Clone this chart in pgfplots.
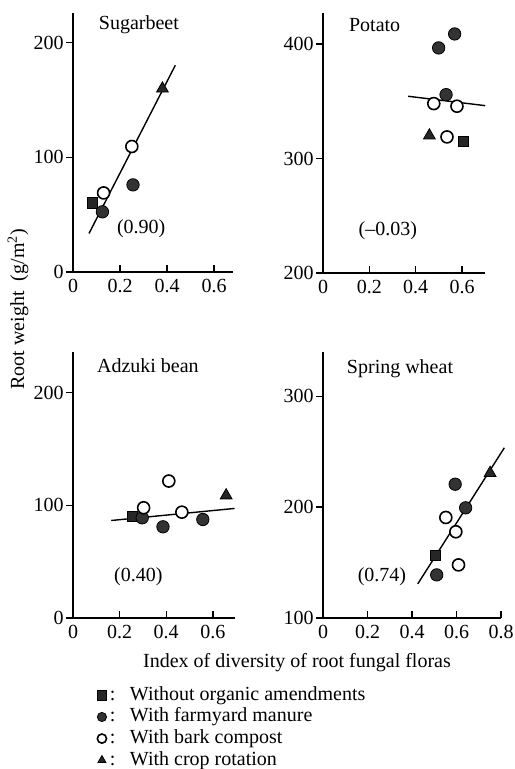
\documentclass[border=0pt]{standalone}
\usepackage{fontspec}
\setmainfont{Liberation Serif}
\usepackage{pgfplots}
\pgfplotsset{compat=1.18}

% marker styles, one for each treatment
\pgfplotsset{
  panel/.style={
    scale only axis, anchor=south west, clip=false,
    axis lines=left, axis line style={-, line width=0.7pt},
    xtick align=inside, ytick align=outside,
    major tick length=3.5pt,
    tick style={line width=0.7pt, black},
    xmin=0,
    font=\rmfamily\fontsize{10}{12}\selectfont,
    tick label style={font=\rmfamily\fontsize{10}{12}\selectfont},
    yticklabel style={inner xsep=1pt},
    /pgf/number format/assume math mode=true,
    /pgf/number format/fixed,
  },
  none/.style={only marks, mark=square*, mark size=2.6pt, draw=black, fill=black!85},
  fym/.style={only marks, mark=*, mark size=3.1pt, draw=black, fill=black!80},
  bark/.style={only marks, mark=*, mark size=3pt, draw=black, fill=white, mark options={line width=0.8pt}},
  rot/.style={only marks, mark=triangle*, mark size=3.4pt, draw=black, fill=black!85},
  fit/.style={line width=0.7pt, black},
}

\begin{document}
\begin{tikzpicture}
\path[use as bounding box] (0,0) rectangle (257pt,384.5pt);

% Sugarbeet
\begin{axis}[panel, at={(36.5pt,248.5pt)}, width=80pt, height=129.5pt,
  xmax=0.68, ymin=0, ymax=226, xtick={0,0.2,0.4,0.6}, ytick={0,100,200}]
  \addplot[fit] coordinates {(0.068,33.6) (0.435,180.4)};
  \addplot[none] coordinates {(0.082,60.4)};
  \addplot[fym] coordinates {(0.125,52.5) (0.255,76)};
  \addplot[bark] coordinates {(0.13,69) (0.25,109.5)};
  \addplot[rot] coordinates {(0.38,160)};
  \node[anchor=west] at (axis cs:0.08,215.7) {Sugarbeet};
  \node at (axis cs:0.29,37.5) {(0.90)};
\end{axis}

% Potato
\begin{axis}[panel, at={(161.5pt,248pt)}, width=81pt, height=130pt,
  xmax=0.699, ymin=200, ymax=427, xtick={0,0.2,0.4,0.6}, ytick={200,300,400}]
  \addplot[fit] coordinates {(0.367,354.3) (0.70,346.1)};
  \addplot[none] coordinates {(0.607,315)};
  \addplot[fym] coordinates {(0.499,396.5) (0.568,408.7) (0.531,355.7)};
  \addplot[bark] coordinates {(0.478,347.9) (0.578,345.6) (0.535,318.8)};
  \addplot[rot] coordinates {(0.459,320)};
  \node[anchor=west] at (axis cs:0.082,416.6) {Potato};
  \node at (axis cs:0.28,236.7) {(--0.03)};
\end{axis}

% Adzuki bean
\begin{axis}[panel, at={(36.5pt,75.5pt)}, width=81pt, height=133pt,
  xmax=0.695, ymin=0, ymax=236, xtick={0,0.2,0.4,0.6}, ytick={0,100,200}]
  \addplot[fit] coordinates {(0.164,86.5) (0.693,97.2)};
  \addplot[none] coordinates {(0.254,90.4)};
  \addplot[fym] coordinates {(0.297,88.9) (0.386,80.9) (0.557,87.4)};
  \addplot[bark] coordinates {(0.303,97.8) (0.411,121.5) (0.467,93.9)};
  \addplot[rot] coordinates {(0.657,108.7)};
  \node[anchor=west] at (axis cs:0.073,224) {Adzuki bean};
  \node at (axis cs:0.28,37) {(0.40)};
\end{axis}

% Spring wheat, carries the legend
\begin{axis}[panel, at={(161.5pt,75.5pt)}, width=89pt, height=133pt,
  xmax=0.8, ymin=100, ymax=340, xtick={0,0.2,0.4,0.6,0.8}, ytick={100,200,300},
  legend image code/.code={\draw[#1, mark size=2.3pt] plot coordinates {(2.5pt,0pt)};},
  legend style={draw=none, fill=none, inner sep=0pt, row sep=1.8pt,
    at={(-1.27,-0.2556)}, anchor=north west,
    nodes={inner sep=0pt, text height=7pt, text depth=2pt},
    /tikz/every odd column/.append style={column sep=1.7pt},
    font=\rmfamily\fontsize{10}{12}\selectfont},
  legend cell align=left]
  \addplot[none] coordinates {(0.505,156.3)};
  \addlegendentry{\makebox[10pt][l]{:}Without organic amendments}
  \addplot[fym] coordinates {(0.594,220.7) (0.641,199.4) (0.511,138.9)};
  \addlegendentry{\makebox[10pt][l]{:}With farmyard manure}
  \addplot[bark] coordinates {(0.552,190.7) (0.597,177.8) (0.609,147.9)};
  \addlegendentry{\makebox[10pt][l]{:}With bark compost}
  \addplot[rot] coordinates {(0.751,230.8)};
  \addlegendentry{\makebox[10pt][l]{:}With crop rotation}
  \addplot[fit, forget plot] coordinates {(0.426,130.8) (0.815,253.6)};
  \node[anchor=west] at (axis cs:0.076,325) {Spring wheat};
  \node at (axis cs:0.265,137) {(0.74)};
\end{axis}

\node[rotate=90, font=\rmfamily\fontsize{10}{12}\selectfont] at (9pt,230pt) {Root weight\ \ (g/m\textsuperscript{2})};
\node[font=\rmfamily\fontsize{10}{12}\selectfont] at (148.5pt,53pt) {Index of diversity of root fungal floras};
\end{tikzpicture}
\end{document}
